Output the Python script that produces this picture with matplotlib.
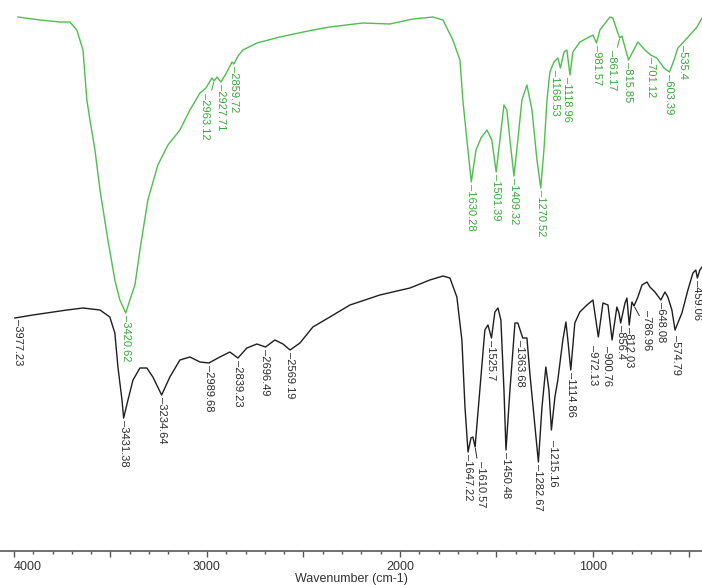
import matplotlib

matplotlib.use("Agg")
import matplotlib.pyplot as plt
import numpy as np
from matplotlib.ticker import FuncFormatter, MultipleLocator

plt.rcParams["font.family"] = ["Liberation Sans", "DejaVu Sans"]

# green trace (top)
green_wn = [3979, 3865, 3762, 3710, 3674, 3642, 3622, 3606, 3580, 3554, 3513, 3477, 3451,
            3420.6, 3399, 3373, 3347, 3306, 3254, 3202, 3140, 3088, 3036, 3005, 2974, 2963,
            2948, 2927.7, 2902, 2870, 2859.7, 2839, 2814, 2741, 2622, 2451, 2363, 2192, 2052,
            1933, 1829, 1777, 1726, 1689, 1674, 1653, 1630.3, 1606, 1580, 1549, 1524, 1501.4,
            1482, 1461, 1446, 1430, 1409.3, 1389, 1368, 1342, 1316, 1290, 1270.5, 1254, 1238,
            1223, 1202, 1182, 1168.5, 1150, 1135, 1119, 1104, 1068, 1000, 981.6, 964, 912, 897,
            871, 861.2, 850, 815.9, 767, 731, 701.1, 669, 632, 603.4, 580, 560, 535.4, 498, 461,
            435]
green_t = [106.8, 106.2, 105.8, 105.8, 104.2, 100.2, 90.2, 86.2, 80.2, 72.2, 62.2, 54.2, 50.2,
           47.6, 50.2, 53.2, 60.2, 70.2, 77.2, 81.2, 84.2, 88.2, 91.6, 92.6, 94.6, 94.0,
           94.8, 93.8, 95.4, 97.8, 97.4, 99.0, 100.2, 101.6, 102.8, 104.2, 104.8, 105.6, 105.4,
           106.4, 106.8, 106.2, 102.2, 98.2, 90.2, 82.2, 73.8, 80.2, 82.6, 84.2, 82.2, 75.8,
           82.2, 89.2, 88.2, 82.2, 75.0, 82.2, 90.2, 93.2, 88.2, 78.2, 72.6, 80.2, 90.2,
           95.8, 97.8, 98.6, 96.6, 99.8, 100.2, 95.2, 99.8, 101.8, 103.2, 101.6, 104.2, 106.8, 106.6,
           103.6, 102.6, 103.0, 98.2, 101.8, 100.2, 99.2, 98.6, 96.6, 95.8, 98.2, 100.6, 101.6, 103.2, 104.8,
           106.6]

# black trace (bottom)
black_wn = [3995, 3902, 3725, 3642, 3554, 3503, 3477, 3461, 3440, 3431.4, 3409, 3383, 3347,
            3311, 3280, 3234.6, 3192, 3140, 3088, 3036, 2989.7, 2933, 2881, 2839.2, 2793, 2741,
            2696.5, 2648, 2606, 2569.2, 2518, 2451, 2363, 2259, 2104, 1948, 1845, 1777, 1741,
            1705, 1679, 1663, 1647.2, 1632, 1622, 1610.6, 1586, 1560, 1544, 1525.7, 1508, 1492,
            1477, 1461, 1450.5, 1430, 1404, 1389, 1363.7, 1342, 1327, 1282.7, 1264, 1244, 1228,
            1215.2, 1197, 1182, 1156, 1140, 1130, 1114.9, 1094, 1068, 1031, 1000, 972.1, 948,
            922, 900.8, 876, 865, 856.4, 834, 824, 812.0, 798, 787.0, 767, 746, 720, 705, 679,
            648.1, 627, 612, 591, 574.8, 539, 508, 482, 467, 459.1, 446, 435]
black_t = [46.6, 47.2, 48.2, 48.6, 48.2, 46.8, 43.6, 36.8, 30.2, 26.6, 30.2, 34.2, 36.6,
           36.6, 34.8, 31.2, 34.8, 38.2, 38.8, 37.8, 37.6, 38.8, 39.8, 38.6, 40.6, 41.4,
           40.8, 42.2, 41.4, 40.2, 41.6, 44.8, 46.8, 49.2, 51.2, 52.6, 54.2, 55.0, 54.6,
           50.8, 42.2, 28.8, 19.8, 22.6, 22.8, 20.8, 32.2, 44.2, 45.2, 42.6, 47.8, 48.6,
           46.2, 32.2, 20.2, 32.2, 45.6, 45.6, 42.6, 42.6, 35.6, 17.8, 28.8, 36.8, 32.2,
           24.2, 30.8, 34.2, 42.2, 45.8, 42.2, 36.2, 45.6, 47.8, 49.2, 50.2, 42.8, 49.6,
           49.2, 42.2, 48.8, 47.6, 45.6, 49.6, 50.6, 45.2, 49.8, 49.0, 50.8, 53.2, 53.8, 52.8, 51.8,
           50.2, 51.8, 50.8, 48.2, 44.2, 47.6, 52.2, 55.6, 56.2, 54.6, 56.2, 56.8]

green_peaks = ["3420.62", "2963.12", "2927.71", "2859.72", "1630.28", "1501.39", "1409.32",
               "1270.52", "1168.53", "1118.96", "981.57", "861.17", "815.85", "701.12",
               "603.39", "535.4"]
black_peaks = ["3977.23", "3431.38", "3234.64", "2989.68", "2839.23", "2696.49", "2569.19",
               "1647.22", "1610.57", "1525.7", "1450.48", "1363.68", "1282.67", "1215.16",
               "1114.86", "972.13", "900.76", "856.4", "812.03", "786.96", "648.08",
               "574.79", "459.06"]

# label nudges in pixels (dx, extra drop) for crowded peaks
nudge = {
    "2963.12": (-9, 10), "1168.53": (-5, 0), "1118.96": (-3, 0), "861.17": (-8, 10),
    "1610.57": (6, 12), "1363.68": (-3, 0), "1215.16": (2, 8), "972.13": (-5, 6),
    "900.76": (-5, 4), "786.96": (13, 2), "574.79": (1, 3),
}

GREEN = "#4cbf4c"
GREEN_TXT = "#3aa53a"
BLACK = "#1e1e1e"
BLACK_TXT = "#2a2a2a"

fig = plt.figure(figsize=(7.02, 5.85), dpi=100)
ax = fig.add_axes([0, 34 / 585, 1, 551 / 585])

ax.plot(green_wn, green_t, color=GREEN, lw=1.0)
ax.plot(black_wn, black_t, color=BLACK, lw=1.0)


def label_peaks(peaks, wn, t, color):
    xs = np.array(wn)[::-1]
    ys = np.array(t)[::-1]
    for s in peaks:
        w = float(s)
        y = np.interp(w, xs, ys)
        dx, dy = nudge.get(s, (0, 0))
        kw = {}
        if abs(dx) >= 6:
            kw["arrowprops"] = dict(arrowstyle="-", color=color, lw=0.7, shrinkA=0, shrinkB=1)
        ax.annotate("\u2013" + s, xy=(w, y), xytext=(dx, -2 - dy), textcoords="offset pixels",
                    rotation=270, ha="center", va="top", fontsize=8, color=color, **kw)


label_peaks(green_peaks, green_wn, green_t, GREEN_TXT)
label_peaks(black_peaks, black_wn, black_t, BLACK_TXT)

ax.set_xlim(4072, 435)
ax.set_ylim(0, 110.2)
for side in ["top", "left", "right"]:
    ax.spines[side].set_visible(False)
ax.spines["bottom"].set_color("#666666")
ax.spines["bottom"].set_linewidth(1.3)
ax.set_yticks([])
ax.xaxis.set_major_locator(MultipleLocator(500))
ax.xaxis.set_minor_locator(MultipleLocator(100))
ax.xaxis.set_major_formatter(FuncFormatter(lambda v, p: f"{v:.0f}" if v % 1000 == 0 else ""))
ax.tick_params(axis="x", which="major", length=4, width=1, color="#555555",
               labelsize=9, labelcolor="#333333", pad=3)
ax.tick_params(axis="x", which="minor", length=2, width=1, color="#555555")
ax.set_xlabel("Wavenumber (cm-1)", fontsize=9, color="#333333", labelpad=0)
ax.patch.set_alpha(0)

fig.canvas.draw()
for lbl in ax.get_xticklabels():
    if lbl.get_text() == "4000":
        lbl.set_ha("left")

fig.savefig("out.png", dpi=100)
